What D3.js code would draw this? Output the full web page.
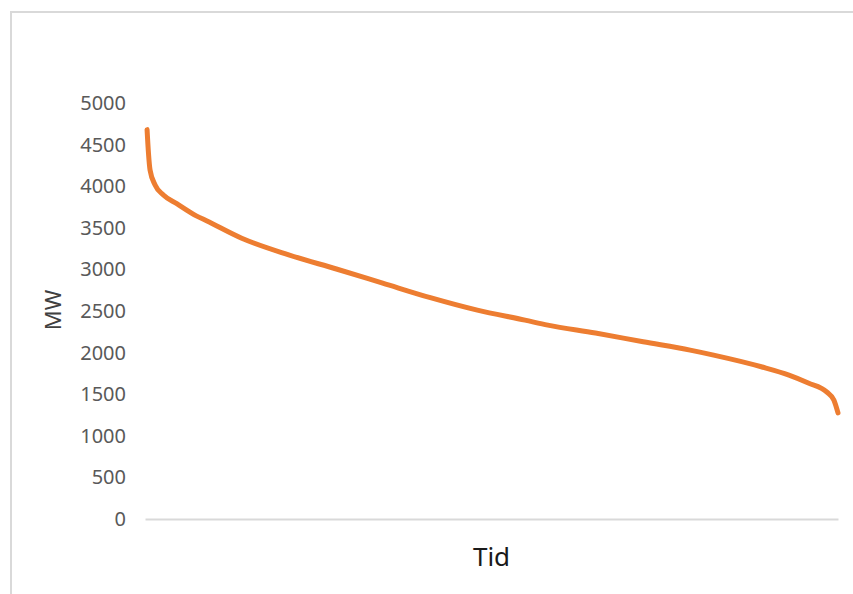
<!DOCTYPE html>
<html>
<head>
<meta charset="utf-8">
<script src="https://cdn.jsdelivr.net/npm/d3@7"></script>
<style>
  body { margin: 0; background: #fff; }
  svg { display: block; font-family: "Noto Sans", sans-serif; }
</style>
</head>
<body>
<div class="canvas"></div>
<script>
// data: share of time (%) and load (MW)
const timeShare = [0, 0.2, 0.43, 1.16, 2.36, 4.3, 7.2, 8.6, 13.7, 20.5, 27.4, 34.1, 41, 47.8, 54.7, 58, 64.9, 71.8, 78.6, 82, 88.9, 92.9, 95.7, 98.4, 99.4, 100];
const loadMW = [4680, 4400, 4195, 4015, 3895, 3790, 3640, 3585, 3375, 3175, 3005, 2835, 2660, 2510, 2390, 2330, 2235, 2130, 2030, 1970, 1830, 1730, 1635, 1525, 1430, 1275];
const yTicks = [0, 500, 1000, 1500, 2000, 2500, 3000, 3500, 4000, 4500, 5000];
const xTitle = "Tid";
const yTitle = "MW";

// dimensions
const w = 853;
const h = 594;
const margin = { top: 103, right: 15, bottom: 75, left: 145 };

const svg = d3.select(".canvas").append("svg").attr("width", w).attr("height", h);

// chart frame (only top and left edges are visible)
svg.append("path")
  .attr("d", `M11,${h} L11,12 L${w},12`)
  .attr("fill", "none")
  .attr("stroke", "#d9d9d9")
  .attr("stroke-width", 2);

// scales
const xScale = d3.scaleLinear().domain([-0.3, 100]).range([margin.left, w - margin.right]);
const yScale = d3.scaleLinear().domain([0, 5000]).range([h - margin.bottom, margin.top]);

// y-axis labels
const yAxis = d3.axisLeft(yScale).tickValues(yTicks).tickFormat(d3.format("d")).tickSize(0).tickPadding(19);
const yG = svg.append("g")
  .attr("transform", `translate(${margin.left}, 0)`)
  .call(yAxis);
yG.select(".domain").remove();
yG.selectAll("text")
  .attr("fill", "#595959")
  .style("font-size", "20px")
  .style("font-family", "'Noto Sans', sans-serif");

// x-axis line, no ticks
const xAxis = d3.axisBottom(xScale).tickValues([]).tickSizeOuter(0);
const xG = svg.append("g")
  .attr("transform", `translate(0, ${yScale(0)})`)
  .call(xAxis);
xG.select(".domain").attr("stroke", "#d9d9d9").attr("stroke-width", 2);

// axis titles
svg.append("text")
  .attr("x", (xScale(-0.3) + xScale(100)) / 2)
  .attr("y", 566)
  .attr("text-anchor", "middle")
  .attr("fill", "#1a1a1a")
  .style("font-size", "26px")
  .text(xTitle);

svg.append("text")
  .attr("transform", `translate(61, ${310}) rotate(-90)`)
  .attr("text-anchor", "middle")
  .attr("fill", "#404040")
  .style("font-size", "22px")
  .text(yTitle);

// duration curve
const points = timeShare.map((t, i) => [t, loadMW[i]]);
const line = d3.line()
  .x(d => xScale(d[0]))
  .y(d => yScale(d[1]))
  .curve(d3.curveMonotoneX);

svg.append("path")
  .datum(points)
  .attr("d", line)
  .attr("fill", "none")
  .attr("stroke", "#ED7D31")
  .attr("stroke-width", 5)
  .attr("stroke-linecap", "round")
  .attr("stroke-linejoin", "round");
</script>
</body>
</html>
